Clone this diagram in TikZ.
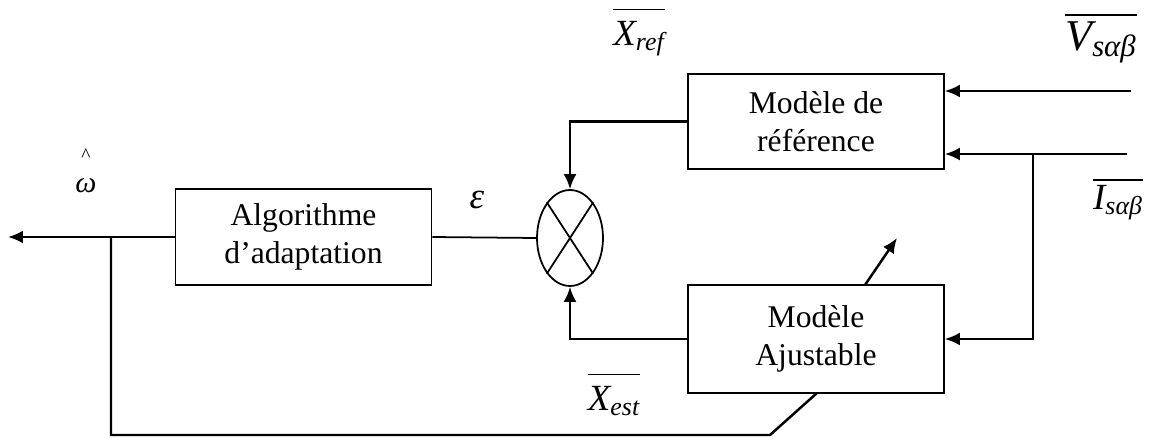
\documentclass[tikz,border=0pt]{standalone}
\usepackage{amsmath}
\usepackage{fontspec}
\setmainfont{Liberation Serif}
\usetikzlibrary{arrows.meta,shapes.geometric,positioning}

\tikzset{
  bloc/.style={draw,line width=1pt,minimum width=5.12cm,align=center,
    font=\fontsize{18}{21.5}\selectfont},
  etiq/.style={font=\fontsize{21}{24}\selectfont,inner sep=0pt},
  fleche/.style={-{Latex[length=3mm,width=2.6mm]},line width=1.4pt},
  trait/.style={line width=1.4pt},
}

\begin{document}
\begin{tikzpicture}[x=0.02cm,y=-0.02cm,line join=miter]
        \useasboundingbox (0,0) rectangle (1150,439);

        % blocs
        \node[bloc,minimum height=1.92cm] (algo) at (303.5,237) {Algorithme\\d’adaptation};
        \node[bloc,minimum height=1.9cm] (ref) at (816,121.5) {Modèle de\\référence};
        \node[bloc,minimum height=2.16cm] (ajust) at (816,339) {Modèle\\Ajustable};
        \node[draw,ellipse,minimum width=1.32cm,minimum height=1.92cm,inner sep=0pt,
              line width=1pt] (som) at (570,238) {};
        \draw[line width=1pt] (som.57) -- (som.237) (som.123) -- (som.303);

        % points libres
        \coordinate (sortie) at (8,237);
        \coordinate (br) at (111,237);
        \coordinate (retour) at (111,435);
        \coordinate (coin) at (770,435);
        \coordinate (ajbas) at (817,393);
        \coordinate (vin) at (1131,91);
        \coordinate (iin) at (1127,154);
        \coordinate (ib) at (1033,154);
        \coordinate (adj1) at (865,285);
        \coordinate (adj2) at (897,238);

        % liaisons
        \draw[fleche] (algo.west) -- (sortie);
        \draw[trait] (br) -- (retour) -- (coin) -- (ajbas);
        \draw[line width=1pt] (algo.east) -- (som.west);
        \draw[fleche] (ref.west) -| (som.north);
        \draw[fleche] (ajust.west) -| (som.south);
        \draw[fleche] (vin) -- (ref.east |- vin);
        \draw[fleche] (iin) -- (ref.east |- iin);
        \draw[fleche] (ib) |- (ajust.east);
        \draw[fleche] (adj1) -- (adj2);

        % etiquettes
        \node[etiq,font=\fontsize{17}{20}\selectfont,text height=1.2ex,text depth=0pt] (omega) at (86,188) {\textit{ω}};
        \node[etiq,font=\fontsize{11}{11}\selectfont,text depth=0pt] (chapeau) at (86,155) {\^{}};
        \node[etiq] (eps) at (477,200) {\textit{ε}};
        \node[etiq] (xref) at (639,32) {$\overline{\vphantom{I^{I}}\textit{X}_{\textit{ref}}}$};
        \node[etiq] (xest) at (614,394) {$\overline{\vphantom{I^{I}}\textit{X}_{\textit{est}}}$};
        \node[etiq,font=\fontsize{25}{28}\selectfont] (vs) at (1101,38) {$\overline{\textit{V}_{\textit{sαβ}}}$};
        \node[etiq] (is) at (1118,199) {$\overline{\textit{I}_{\textit{sαβ}}}$};
    \end{tikzpicture}
\end{document}
